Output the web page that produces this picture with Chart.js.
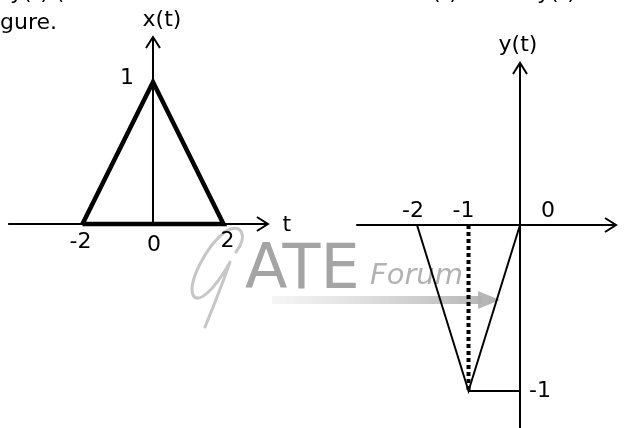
<!DOCTYPE html>
<html>
<head>
<meta charset="utf-8">
<script src="https://cdn.jsdelivr.net/npm/chart.js@4.4.1/dist/chart.umd.min.js"></script>
<style>
  html, body { margin: 0; padding: 0; background: #fff; }
  #wrap { position: relative; width: 626px; height: 428px; overflow: hidden; }
</style>
</head>
<body>
<div id="wrap"><canvas id="chart" width="626" height="428"></canvas></div>
<script>
// x(t): triangle, closed along the base
const xtTimes = [-2, 0, 2, -2];
const xtValues = [0, 1, 0, 0];

// y(t): inverted triangle
const ytTimes = [-2, -1, 0];
const ytValues = [0, -1, 0];
const ytFloorTimes = [-1, 0];
const ytFloorValues = [-1, -1];
const ytDotTimes = [-1, -1];
const ytDotValues = [0, -1];

// tick labels
const xtTickTimes = [-2, 0, 2];
const xtTickText = ['-2', '0', '2'];
const ytTickTimes = [-2, -1, 0];
const ytTickText = ['-2', '-1', '0'];

const FONT = '"DejaVu Sans", Verdana, sans-serif';

function pts(xs, ys) {
    return xs.map(function (x, i) { return { x: x, y: ys[i] }; });
}

function arrowHead(ctx, x, y, dir) {
    // open chevron, dir: 'up' or 'right'
    ctx.beginPath();
    if (dir === 'up') {
        ctx.moveTo(x - 7, y + 11);
        ctx.lineTo(x, y);
        ctx.lineTo(x + 7, y + 11);
    } else {
        ctx.moveTo(x - 11, y - 7);
        ctx.lineTo(x, y);
        ctx.lineTo(x - 11, y + 7);
    }
    ctx.stroke();
}

const figurePlugin = {
    id: 'figure',
    beforeDatasetsDraw(chart) {
        const ctx = chart.ctx;
        const s = chart.scales;
        ctx.save();

        // watermark: script G, ATE, Forum, arrow
        ctx.strokeStyle = '#c6c6c6';
        ctx.lineWidth = 3;
        ctx.lineCap = 'round';
        ctx.beginPath();
        ctx.moveTo(236, 252);
        ctx.bezierCurveTo(248, 236, 242, 222, 226, 231);
        ctx.bezierCurveTo(206, 246, 188, 282, 193, 295);
        ctx.bezierCurveTo(198, 305, 214, 290, 229, 264);
        ctx.moveTo(230, 262);
        ctx.bezierCurveTo(222, 285, 214, 305, 205, 327);
        ctx.stroke();

        ctx.fillStyle = '#a4a4a4';
        ctx.font = '62px ' + FONT;
        ctx.textBaseline = 'alphabetic';
        ctx.fillText('ATE', 245, 288);
        ctx.fillStyle = '#b2b2b2';
        ctx.font = 'italic 29px ' + FONT;
        ctx.fillText('Forum', 370, 284);
        const g = ctx.createLinearGradient(272, 0, 500, 0);
        g.addColorStop(0, 'rgba(205,205,205,0.2)');
        g.addColorStop(1, 'rgba(175,175,175,1)');
        ctx.fillStyle = g;
        ctx.fillRect(272, 296, 210, 8);
        ctx.beginPath();
        ctx.moveTo(478, 291);
        ctx.lineTo(500, 300);
        ctx.lineTo(478, 309);
        ctx.closePath();
        ctx.fill();

        // axes
        ctx.strokeStyle = '#000';
        ctx.lineWidth = 2;
        ctx.lineCap = 'butt';
        let x0 = s.xa.getPixelForValue(0), y0 = s.ya.getPixelForValue(0);
        ctx.beginPath();
        ctx.moveTo(s.xa.getPixelForValue(-4.11), y0);
        ctx.lineTo(s.xa.getPixelForValue(3.26), y0);
        ctx.moveTo(x0, y0);
        ctx.lineTo(x0, s.ya.getPixelForValue(1.317));
        ctx.stroke();
        arrowHead(ctx, s.xa.getPixelForValue(3.26), y0, 'right');
        arrowHead(ctx, x0, s.ya.getPixelForValue(1.317), 'up');

        x0 = s.xb.getPixelForValue(0); y0 = s.yb.getPixelForValue(0);
        ctx.beginPath();
        ctx.moveTo(s.xb.getPixelForValue(-3.18), y0);
        ctx.lineTo(s.xb.getPixelForValue(1.864), y0);
        ctx.moveTo(x0, s.yb.getPixelForValue(-1.25));
        ctx.lineTo(x0, s.yb.getPixelForValue(0.976));
        ctx.stroke();
        arrowHead(ctx, s.xb.getPixelForValue(1.864), y0, 'right');
        arrowHead(ctx, x0, s.yb.getPixelForValue(0.976), 'up');

        ctx.restore();
    },
    afterDatasetsDraw(chart) {
        const ctx = chart.ctx;
        const s = chart.scales;
        ctx.save();
        ctx.fillStyle = '#000';
        ctx.textAlign = 'center';
        ctx.textBaseline = 'middle';
        ctx.font = '22px ' + FONT;

        // x(t) labels
        const offX = [-2, 1, 4];
        const offY = [18, 21, 17];
        xtTickTimes.forEach(function (t, i) {
            ctx.fillText(xtTickText[i], s.xa.getPixelForValue(t) + offX[i], s.ya.getPixelForValue(0) + offY[i]);
        });
        ctx.fillText('1', s.xa.getPixelForValue(0) - 26, s.ya.getPixelForValue(1) - 4);
        ctx.fillText('t', s.xa.getPixelForValue(3.26) + 19, s.ya.getPixelForValue(0) + 1);
        ctx.fillText('x(t)', s.xa.getPixelForValue(0) + 9, 20);

        // y(t) labels
        const offX2 = [-4, -5, 28];
        ytTickTimes.forEach(function (t, i) {
            ctx.fillText(ytTickText[i], s.xb.getPixelForValue(t) + offX2[i], s.yb.getPixelForValue(0) - 14);
        });
        ctx.fillText('-1', s.xb.getPixelForValue(0) + 20, s.yb.getPixelForValue(-1));
        ctx.fillText('y(t)', s.xb.getPixelForValue(0) - 2, 45);

        // cropped text of the page around the figure
        ctx.textAlign = 'left';
        ctx.textBaseline = 'alphabetic';
        ctx.font = '22px ' + FONT;
        ctx.fillText('gure.', 0, 29);
        ctx.fillText('y(t) (', 10, -1);
        ctx.fillText('x(t)', 419, -1);
        ctx.fillText('y(t)', 537, -1);
        ctx.restore();
    }
};

const ctx = document.getElementById('chart').getContext('2d');

const lineBase = {
    showLine: true,
    pointRadius: 0,
    borderColor: '#000',
    tension: 0,
    fill: false,
    borderJoinStyle: 'miter',
};

const chart = new Chart(ctx, {
    type: 'scatter',
    data: {
        datasets: [
            Object.assign({}, lineBase, { label: 'x(t)', data: pts(xtTimes, xtValues), borderWidth: 4.5, xAxisID: 'xa', yAxisID: 'ya' }),
            Object.assign({}, lineBase, { label: 'y(t)', data: pts(ytTimes, ytValues), borderWidth: 2, xAxisID: 'xb', yAxisID: 'yb' }),
            Object.assign({}, lineBase, { label: 'y(t) floor', data: pts(ytFloorTimes, ytFloorValues), borderWidth: 2, xAxisID: 'xb', yAxisID: 'yb' }),
            Object.assign({}, lineBase, { label: 'dotted', data: pts(ytDotTimes, ytDotValues), borderWidth: 4, borderDash: [4, 3], xAxisID: 'xb', yAxisID: 'yb' }),
        ]
    },
    options: {
        responsive: false,
        animation: false,
        devicePixelRatio: 1,
        layout: { padding: 0 },
        plugins: {
            legend: { display: false },
            tooltip: { enabled: false },
        },
        scales: {
            xa: { type: 'linear', display: false, min: -4.340, max: 13.418 },
            ya: { type: 'linear', display: false, min: -1.4366, max: 1.5775 },
            xb: { type: 'linear', display: false, min: -10.097, max: 2.058 },
            yb: { type: 'linear', display: false, min: -1.2229, max: 1.3554 },
        },
    },
    plugins: [figurePlugin],
});
</script>
</body>
</html>
